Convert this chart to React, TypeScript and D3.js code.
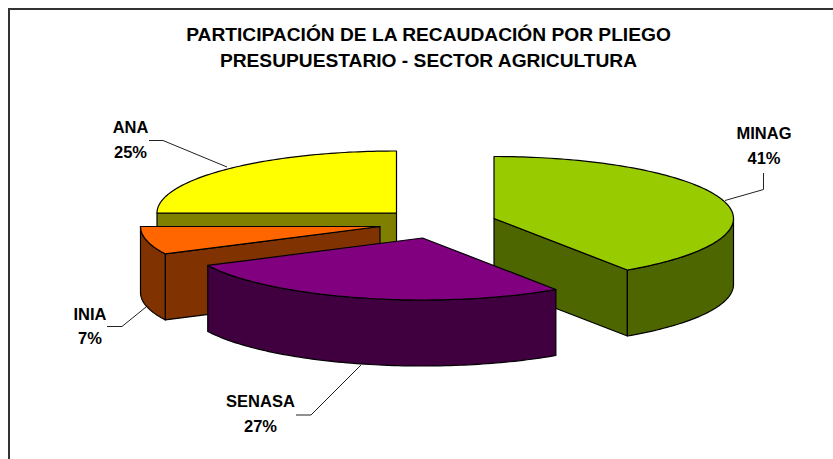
import React from "react";
import * as d3 from "d3";

const categories = ["MINAG", "SENASA", "INIA", "ANA"];
const shares = [40.6, 27.1, 7.3, 25.0];
const titleLines = [
  "PARTICIPACIÓN DE LA RECAUDACIÓN POR PLIEGO",
  "PRESUPUESTARIO - SECTOR AGRICULTURA",
];
const topColors = ["#99CC00", "#800080", "#FF6600", "#FFFF00"];
const sideColors = ["#4D6600", "#400040", "#803300", "#808000"];

const RX = 239.5;
const RY = 62;
const DEPTH = 66;
const apexes: Record<string, [number, number]> = {
  MINAG: [494, 218.5],
  SENASA: [422.5, 238],
  INIA: [380, 226.5],
  ANA: [396.5, 213],
};
const leaders: Record<string, [number, number][]> = {
  MINAG: [[725, 200.5], [763.5, 189.5], [763.5, 173]],
  SENASA: [[361, 365], [311, 415], [296, 415]],
  INIA: [[146, 307], [122, 326.5], [107, 326.5]],
  ANA: [[227, 167], [163, 140.5], [149, 140.5]],
};
const labelPos: Record<string, [number, number, number]> = {
  MINAG: [764, 139, 164],
  SENASA: [260.5, 407, 432],
  INIA: [90, 320, 344],
  ANA: [130.5, 133, 158],
};
const drawOrder = ["ANA", "INIA", "MINAG", "SENASA"];

const pieGen = d3.pie<number>().sort(null);
const arcs = pieGen(shares);
const line = d3.line<[number, number]>();

function rim(name: string, a0: number, a1: number, dy = 0): [number, number][] {
  const [cx, cy] = apexes[name];
  const n = Math.max(2, Math.ceil(Math.abs(a1 - a0) / 0.02));
  return d3.range(n + 1).map((i) => {
    const a = a0 + ((a1 - a0) * i) / n;
    return [cx + RX * Math.sin(a), cy - RY * Math.cos(a) + dy] as [number, number];
  });
}

function Slice({ name }: { name: string }) {
  const i = categories.indexOf(name);
  const { startAngle: s, endAngle: e } = arcs[i];
  const [cx, cy] = apexes[name];
  const apex: [number, number] = [cx, cy];
  const apexLow: [number, number] = [cx, cy + DEPTH];
  const faces: [number, number][][] = [];
  if (Math.sin(s) < -1e-6) {
    const p = rim(name, s, s, 0)[0];
    faces.push([apex, p, [p[0], p[1] + DEPTH], apexLow]);
  }
  if (Math.sin(e) > 1e-6) {
    const p = rim(name, e, e, 0)[0];
    faces.push([apex, p, [p[0], p[1] + DEPTH], apexLow]);
  }
  const f0 = Math.max(s, Math.PI / 2);
  const f1 = Math.min(e, (3 * Math.PI) / 2);
  const common = { stroke: "#000", strokeWidth: 1.2, strokeLinejoin: "round" as const };
  return (
    <g>
      {faces.map((f, k) => (
        <path key={k} d={line(f)! + "Z"} fill={sideColors[i]} {...common} />
      ))}
      {f1 > f0 && (
        <path
          d={line([...rim(name, f0, f1), ...rim(name, f0, f1, DEPTH).reverse()])! + "Z"}
          fill={sideColors[i]}
          {...common}
        />
      )}
      <path d={line([apex, ...rim(name, s, e)])! + "Z"} fill={topColors[i]} {...common} />
    </g>
  );
}

export default function App() {
  const font = "'Liberation Sans', Arial, sans-serif";
  return (
    <svg
      width={833}
      height={459}
      viewBox="0 0 833 459"
      style={{ position: "absolute", left: 0, top: 0, background: "#fff" }}
    >
      <path d="M9 459V9H833" fill="none" stroke="#333" strokeWidth={2} />
      {titleLines.map((t, i) => (
        <text
          key={t}
          x={428.5}
          y={41 + i * 26}
          textAnchor="middle"
          fontFamily={font}
          fontWeight="bold"
          fontSize={19.2}
          fill="#000"
        >
          {t}
        </text>
      ))}
      {drawOrder.map((n) => (
        <Slice key={n} name={n} />
      ))}
      {categories.map((n, i) => (
        <g key={n}>
          <path d={line(leaders[n])!} fill="none" stroke="#222" strokeWidth={1} />
          <text
            x={labelPos[n][0]}
            y={labelPos[n][1]}
            textAnchor="middle"
            fontFamily={font}
            fontWeight="bold"
            fontSize={16.5}
            fill="#000"
          >
            {n}
          </text>
          <text
            x={labelPos[n][0]}
            y={labelPos[n][2]}
            textAnchor="middle"
            fontFamily={font}
            fontWeight="bold"
            fontSize={16.5}
            fill="#000"
          >
            {Math.round(shares[i])}%
          </text>
        </g>
      ))}
    </svg>
  );
}
